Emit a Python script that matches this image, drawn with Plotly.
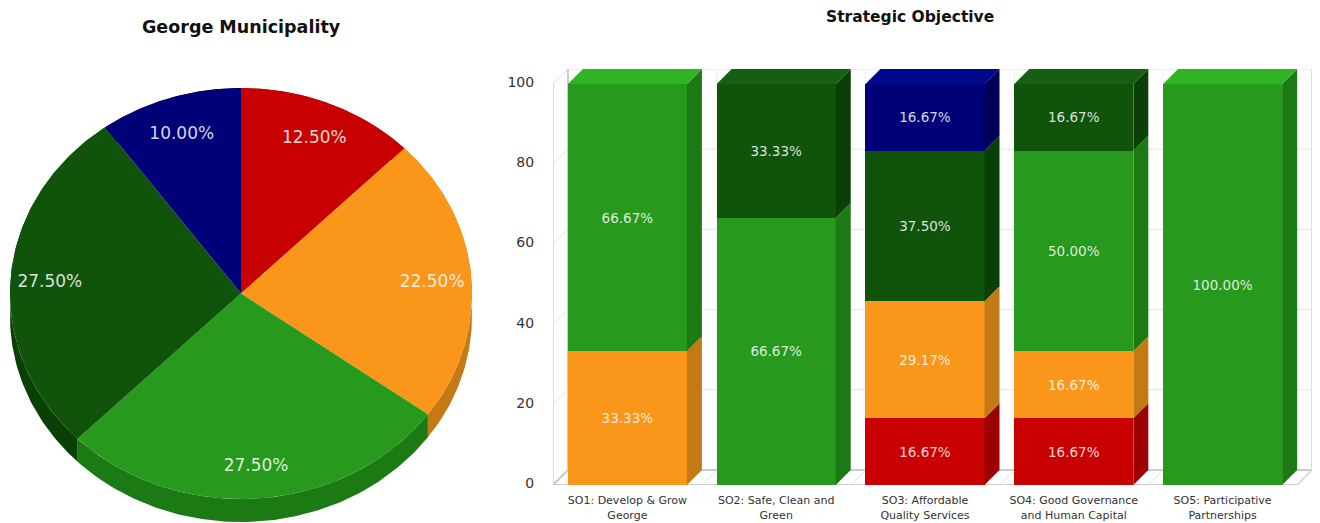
import numpy as np
import plotly.graph_objects as go

# ---- data ----
pie_labels = ["Red", "Orange", "Green", "Dark green", "Blue"]
pie_values = [12.5, 22.5, 27.5, 27.5, 10.0]

categories = [
    "SO1: Develop &amp; Grow<br>George",
    "SO2: Safe, Clean and<br>Green",
    "SO3: Affordable<br>Quality Services",
    "SO4: Good Governance<br>and Human Capital",
    "SO5: Participative<br>Partnerships",
]
red = [0, 0, 16.67, 16.67, 0]
orange = [33.33, 0, 29.17, 16.67, 0]
green = [66.67, 66.67, 0, 50.0, 100.0]
dark_green = [0, 33.33, 37.5, 16.67, 0]
blue = [0, 0, 16.67, 0, 0]
y_ticks = [0, 20, 40, 60, 80, 100]

# ---- style ----
W, H = 1320, 523
FONT = "DejaVu Sans"
C_FRONT = ["#c80000", "#fa961a", "#27991d", "#10540c", "#000078"]
C_SIDE = ["#9c0000", "#c47a14", "#1c7a14", "#0a3f05", "#000058"]
C_TOP = ["#e00000", "#ffae30", "#2fb522", "#146010", "#00088c"]
LABEL = "rgba(255,255,255,0.85)"
WALL = "#dcdcdc"
series = [red, orange, green, dark_green, blue]

fig = go.Figure()

# ---- pie: unit circle on its own axes, the axes give the ellipse ----
PIE_L, PIE_R, PIE_T, PIE_B = 10, 472, 88, 522
RY_PX = 205.5
depth_u = (PIE_B - PIE_T - 2 * RY_PX) / RY_PX
fracs = np.array(pie_values) / sum(pie_values)
edges = np.concatenate([[0], np.cumsum(fracs)]) * 2 * np.pi


def arc(a0, a1):
    t = np.linspace(a0, a1, 120)
    return np.sin(t), np.cos(t)


# side wall first (back slices to front slices)
for i in range(len(pie_values)):
    x, y = arc(edges[i], edges[i + 1])
    fig.add_trace(go.Scatter(
        x=np.concatenate([x, x[::-1], x[:1]]),
        y=np.concatenate([y, y[::-1] - depth_u, y[:1]]),
        mode="lines", fill="toself", fillcolor=C_SIDE[i],
        line=dict(width=0), hoverinfo="skip", showlegend=False,
        xaxis="x2", yaxis="y2"))
# top faces
for i in range(len(pie_values)):
    x, y = arc(edges[i], edges[i + 1])
    fig.add_trace(go.Scatter(
        x=np.concatenate([[0], x, [0]]),
        y=np.concatenate([[0], y, [0]]),
        mode="lines", fill="toself", fillcolor=C_FRONT[i],
        line=dict(width=0), name=pie_labels[i], showlegend=False,
        xaxis="x2", yaxis="y2"))
mid = (edges[:-1] + edges[1:]) / 2
fig.add_trace(go.Scatter(
    x=0.83 * np.sin(mid), y=0.83 * np.cos(mid) - 3 / RY_PX,
    text=[f"{v:.2f}%" for v in pie_values],
    mode="text", textposition="middle center",
    textfont=dict(family=FONT, size=17, color=LABEL),
    hoverinfo="skip", showlegend=False, xaxis="x2", yaxis="y2"))

# ---- stacked bars ----
PX_CAT = 148.8
PX_UNIT = 4.01
DEPTH_PX = 15
dx = DEPTH_PX / PX_CAT
dy = DEPTH_PX / PX_UNIT
BAR_W = 0.8
xs = list(range(len(categories)))

for i, s in enumerate(series):
    fig.add_trace(go.Bar(
        x=xs, y=[v if v else None for v in s], width=BAR_W,
        marker=dict(color=C_FRONT[i], line=dict(width=0)),
        text=[f"{v:.2f}%" if v else "" for v in s],
        textposition="inside", insidetextanchor="middle",
        constraintext="none", textangle=0,
        textfont=dict(family=FONT, size=13.5, color=LABEL),
        showlegend=False, xaxis="x", yaxis="y"))

# 3D faces of each bar, derived from the stacked values
for k in xs:
    base = 0.0
    top_i = None
    for i, s in enumerate(series):
        v = s[k]
        if not v:
            continue
        r = k + BAR_W / 2
        fig.add_trace(go.Scatter(
            x=[r, r + dx, r + dx, r, r],
            y=[base, base + dy, base + v + dy, base + v, base],
            mode="lines", fill="toself", fillcolor=C_SIDE[i],
            line=dict(width=0), hoverinfo="skip", showlegend=False,
            xaxis="x", yaxis="y"))
        base += v
        top_i = i
    l, r = k - BAR_W / 2, k + BAR_W / 2
    fig.add_trace(go.Scatter(
        x=[l, r, r + dx, l + dx, l],
        y=[base, base, base + dy, base + dy, base],
        mode="lines", fill="toself", fillcolor=C_TOP[top_i],
        line=dict(width=0), hoverinfo="skip", showlegend=False,
        xaxis="x", yaxis="y"))

# ---- walls and floor, drawn under the bars ----
x0, x1 = -0.5, len(categories) - 0.5
shapes = []


def seg(xa, ya, xb, yb, color=WALL, width=1):
    shapes.append(dict(type="line", xref="x", yref="y", layer="below",
                       x0=xa, y0=ya, x1=xb, y1=yb,
                       line=dict(color=color, width=width)))


for t in y_ticks:
    seg(x0 + dx, t + dy, x1 + dx, t + dy, "#e4e4e4")
    seg(x0, t, x0 + dx, t + dy, "#e0e0e0")
for b in np.arange(x0 + 1, x1, 1.0):
    seg(b + dx, dy, b + dx, 100 + dy, "#eeeeee")
    seg(b, 0, b + dx, dy, "#e0e0e0")
seg(x0, 0, x0, 100, WALL, 2)
seg(x0 + dx, 0 + dy, x0 + dx, 100 + dy, "#cccccc", 2)
seg(x1 + dx, dy, x1 + dx, 100 + dy, WALL, 2)
seg(x0, 0, x1, 0, "#cccccc", 2)
seg(x0 + dx, dy, x1 + dx, dy, "#cccccc", 2)
seg(x0, 0, x0 + dx, dy, "#cccccc", 2)
seg(x1, 0, x1 + dx, dy, WALL, 2)

B_L, B_R, B_BOT = 553, 1297, 485
B_TOP = B_BOT - (100 + dy) * PX_UNIT

fig.update_layout(
    width=W, height=H, autosize=False,
    margin=dict(l=0, r=0, t=0, b=0, autoexpand=False),
    paper_bgcolor="white", plot_bgcolor="white",
    barmode="stack", bargap=0.2, showlegend=False,
    shapes=shapes,
    xaxis=dict(
        domain=[B_L / W, (B_R + DEPTH_PX) / W], range=[x0, x1 + dx], automargin=False,
        tickmode="array", tickvals=xs, ticktext=categories,
        tickangle=0, showgrid=False, zeroline=False, showline=False,
        ticks="outside", ticklen=5, tickcolor="rgba(0,0,0,0)",
        tickfont=dict(family=FONT, size=11, color="#333333"), anchor="y"),
    yaxis=dict(
        domain=[1 - B_BOT / H, 1 - B_TOP / H], range=[0, 100 + dy], automargin=False,
        tickmode="array", tickvals=y_ticks,
        showgrid=False, zeroline=False, showline=False,
        ticks="outside", ticklen=15, tickcolor="rgba(0,0,0,0)", ticklabelshift=-2,
        tickfont=dict(family=FONT, size=14, color="#333333"), anchor="x"),
    xaxis2=dict(domain=[PIE_L / W, PIE_R / W], range=[-1, 1], visible=False,
                anchor="y2", fixedrange=True, automargin=False),
    yaxis2=dict(domain=[1 - PIE_B / H, 1 - PIE_T / H], range=[-1 - depth_u, 1],
                visible=False, anchor="x2", fixedrange=True, automargin=False),
    annotations=[
        dict(text="<b>George Municipality</b>", xref="paper", yref="paper",
             x=241 / W, y=1 - 27.5 / H, showarrow=False, xanchor="center", yanchor="middle",
             font=dict(family=FONT, size=17.5, color="#111111")),
        dict(text="<b>Strategic Objective</b>", xref="paper", yref="paper",
             x=910 / W, y=1 - 17 / H, showarrow=False, xanchor="center", yanchor="middle",
             font=dict(family=FONT, size=15.5, color="#111111")),
    ],
)

fig.write_html("out.html", config=dict(displayModeBar=False),
               post_script="document.body.style.margin='0';document.documentElement.style.overflow='hidden';")
